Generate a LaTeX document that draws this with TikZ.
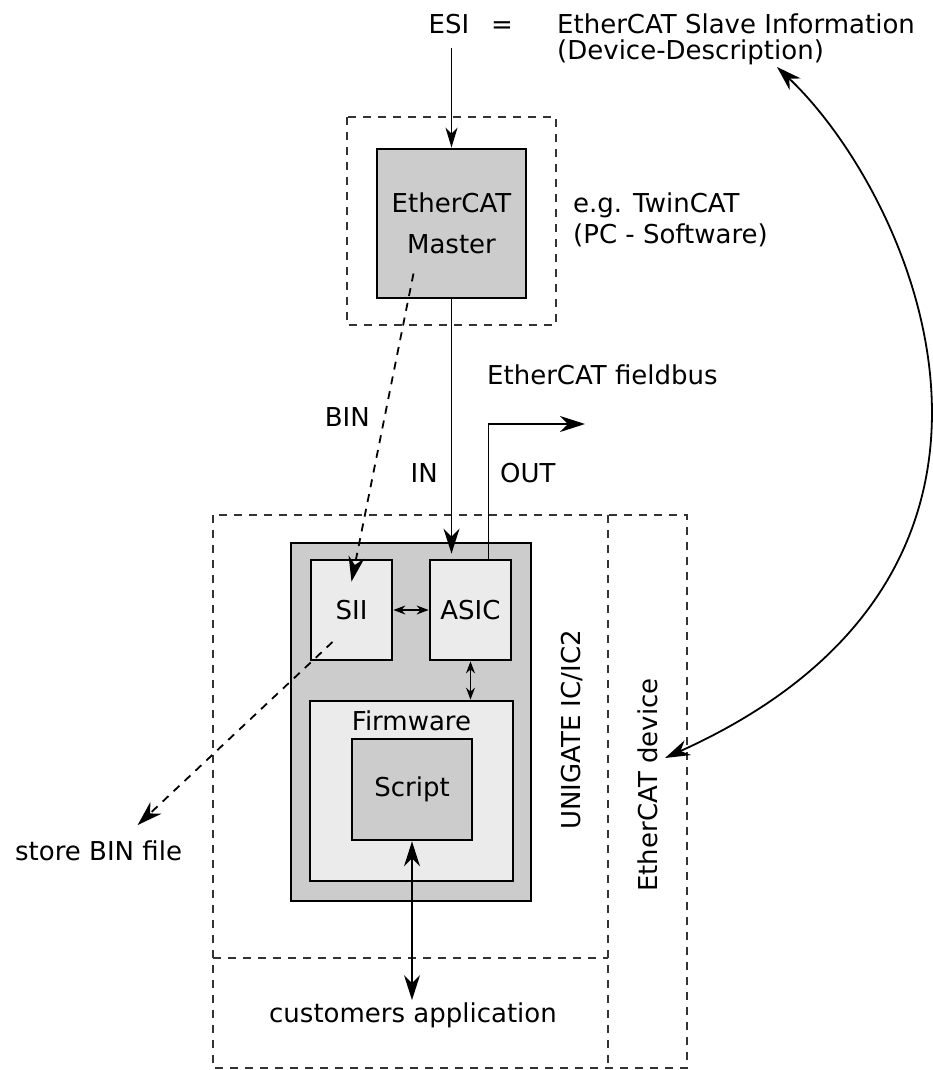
\documentclass[tikz,border=0pt]{standalone}
\usepackage{fontspec}
\setmainfont{DejaVu Sans}
\usetikzlibrary{arrows.meta}

\begin{document}
\begin{tikzpicture}[x=1pt, y=-1pt,
		every node/.style={font=\fontsize{26}{31}\selectfont, inner sep=0pt},
		darkbox/.style={draw, line width=2.8pt, fill=black!20},
		lightbox/.style={draw, line width=2.8pt, fill=black!8},
		dashbox/.style={draw=black!80, line width=1.7pt, dash pattern=on 8pt off 7pt},
		dashline/.style={dash pattern=on 8pt off 7pt},
		bigarr/.style={line width=1.8pt, -{Stealth[length=25pt, width=16pt, inset=8pt]}},
		bothways/.style={line width=1.8pt, {Stealth[length=25pt, width=16pt, inset=8pt]}-{Stealth[length=25pt, width=16pt, inset=8pt]}},
		smallarr/.style={line width=1.2pt, {Stealth[length=12pt, width=9pt, inset=4pt]}-{Stealth[length=12pt, width=9pt, inset=4pt]}}]

		\useasboundingbox (0, 0) rectangle (933, 1070);

		% dashed frames
		\draw[dashbox] (347, 117) rectangle (556, 325);
		\draw[dashbox] (213, 515) rectangle (687, 1068);
		\draw[dashbox] (608, 515) to (608, 1068);
		\draw[dashbox] (213, 958) to (608, 958);

		% boxes
		\node[darkbox, minimum width=149pt, minimum height=149pt, align=center, font=\fontsize{26}{41}\selectfont] (master) at (451.5, 223.5) {EtherCAT\\Master};
		\node[darkbox, minimum width=240pt, minimum height=358pt] (ic) at (411, 722) {};
		\node[lightbox, minimum width=81pt, minimum height=100pt] (sii) at (351.5, 610) {SII};
		\node[lightbox, minimum width=81pt, minimum height=100pt] (asic) at (470.5, 610) {ASIC};
		\node[lightbox, minimum width=203pt, minimum height=180pt] (fw) at (411.5, 791) {};
		\node[anchor=base] (fwtext) at (411.5, 730) {Firmware};
		\node[darkbox, minimum width=120pt, minimum height=101pt] (script) at (412, 789.5) {Script};

		% texts
		\node[anchor=base] (esi) at (449, 34) {ESI};
		\node[anchor=base] (eq) at (502, 34) {=};
		\node[anchor=base west] (esiname) at (557, 34) {EtherCAT Slave Information};
		\node[anchor=base west] (esidesc) at (557, 60) {(Device-Description)};
		\node[anchor=base west] (twincat) at (573, 212) {e.g. TwinCAT};
		\node[anchor=base west] (pcsw) at (573, 243) {(PC - Software)};
		\node[anchor=base west] (fbus) at (487, 384) {EtherCAT fieldbus};
		\node[anchor=base east] (bin) at (370, 426) {BIN};
		\node[anchor=base east] (in) at (438, 482) {IN};
		\node[anchor=base west] (out) at (500, 482) {OUT};
		\node[anchor=base west] (store) at (15, 860) {store BIN file};
		\node[anchor=base] (cust) at (413, 1022) {customers application};
		\node[rotate=90] (unigate) at (572, 730) {UNIGATE IC/IC2};
		\node[rotate=90] (device) at (648, 785) {EtherCAT device};

		\coordinate (fbusend) at (585, 424);
		\coordinate (desctip) at (777, 67);
		\coordinate (devtip) at (665, 758);

		% connectors
		\draw[line width=1.8pt, -{Stealth[length=20pt, width=12pt, inset=6pt]}] ([yshift=-13pt]esi.south -| master.north) to (master.north);
		\draw[bigarr] (master.south) to ([yshift=5pt]master.south |- asic.north);
		\draw[bigarr] ([xshift=18pt]asic.north) |- (fbusend);
		\draw[bigarr, dashline] ([shift={(-38pt,-50pt)}]master.center) to ([yshift=-23pt]sii.north);
		\draw[bigarr, dashline] ([shift={(-19pt,-32pt)}]sii.center) to ([shift={(39pt,15pt)}]store.north);
		\draw[smallarr] (sii) to (asic);
		\draw[smallarr] (asic) to (asic |- fw.north);
		\draw[bothways] (script.south) to ([yshift=2pt]cust.north -| script.south);
		\draw[bothways] (desctip) .. controls (912, 195) and (1082, 570) .. (devtip);
	\end{tikzpicture}
\end{document}
